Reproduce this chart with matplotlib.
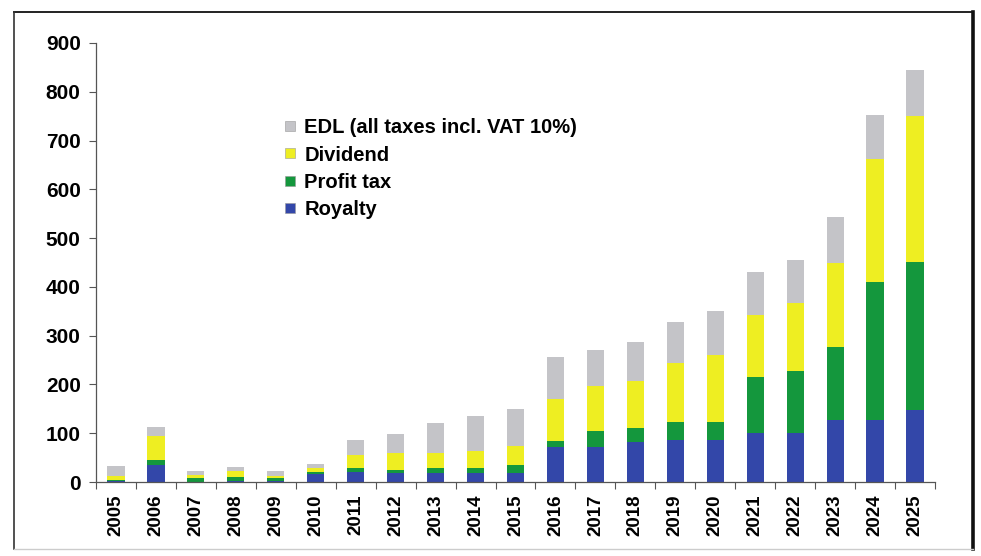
import matplotlib
matplotlib.use("Agg")
import matplotlib.pyplot as plt
from matplotlib.lines import Line2D
import numpy as np

years = [str(y) for y in range(2005, 2026)]
royalty = [2, 35, 1, 2, 3, 17, 21, 19, 19, 19, 19, 72, 72, 81, 86, 86, 100, 101, 127, 127, 148]
profit_tax = [3, 10, 8, 8, 5, 4, 7, 5, 10, 10, 16, 12, 33, 29, 36, 36, 116, 126, 150, 283, 304]
dividend = [7, 50, 5, 12, 5, 7, 28, 36, 31, 35, 39, 86, 91, 97, 122, 139, 126, 140, 171, 252, 298]
edl = [20, 17, 8, 8, 10, 8, 30, 38, 60, 71, 76, 87, 75, 80, 84, 89, 89, 89, 95, 90, 95]

series_names = ["Royalty", "Profit tax", "Dividend", "EDL (all taxes incl. VAT 10%)"]
series_colors = ["#3347a9", "#14973d", "#eeee22", "#c4c4c8"]
y_ticks = list(range(0, 1000, 100))

plt.rcParams["font.family"] = ["Liberation Sans", "DejaVu Sans"]
plt.rcParams["font.weight"] = "bold"

fig = plt.figure(figsize=(9.81, 5.56), dpi=100)
ax = fig.add_axes([96 / 981, 1 - 482 / 556, (935 - 96) / 981, (482 - 43) / 556])

x = np.arange(len(years))
bottom = np.zeros(len(years))
handles = []
for name, vals, col in zip(series_names, [royalty, profit_tax, dividend, edl], series_colors):
    vals = np.array(vals, dtype=float)
    ax.bar(x, vals, width=0.43, bottom=bottom, color=col, edgecolor="none")
    bottom += vals
    handles.append(Line2D([], [], marker="s", linestyle="none", markersize=7.5,
                          markerfacecolor=col, markeredgecolor="#999999",
                          markeredgewidth=0.4, label=name))

ax.set_xlim(-0.5, len(years) - 0.5)
ax.set_ylim(0, 900)
ax.set_yticks(y_ticks)
ax.set_yticklabels([str(v) for v in y_ticks], fontsize=15, fontweight="bold")
ax.set_xticks(x)
ax.set_xticklabels(years, rotation=90, fontsize=13.5, fontweight="bold")
ax.set_xticks(np.arange(-0.5, len(years), 1.0), minor=True)
ax.tick_params(axis="x", which="major", length=0, pad=9)
ax.tick_params(axis="x", which="minor", length=5, width=0.8, color="#555555", direction="out")
ax.tick_params(axis="y", which="major", length=5, width=0.8, color="#555555", direction="out", pad=6)

for side in ["top", "right"]:
    ax.spines[side].set_visible(False)
for side in ["left", "bottom"]:
    ax.spines[side].set_color("#555555")
    ax.spines[side].set_linewidth(0.9)

leg = ax.legend(handles=handles[::-1], loc="upper left",
                bbox_to_anchor=((274 - 96) / (935 - 96), (482 - 108) / (482 - 43)),
                frameon=False, fontsize=14.5, handlelength=0.6, handletextpad=0.4,
                labelspacing=0.42, borderpad=0.0)
for t in leg.get_texts():
    t.set_fontweight("bold")

# outer chart border
fig.add_artist(Line2D([14 / 981, 972 / 981], [1 - 12 / 556, 1 - 12 / 556],
                      transform=fig.transFigure, color="#222222", lw=1.4))
fig.add_artist(Line2D([14 / 981, 14 / 981], [1 - 12 / 556, 1 - 549 / 556],
                      transform=fig.transFigure, color="#333333", lw=1.2))
fig.add_artist(Line2D([973 / 981, 973 / 981], [1 - 12 / 556, 1 - 549 / 556],
                      transform=fig.transFigure, color="#111111", lw=2.6))
fig.add_artist(Line2D([14 / 981, 973 / 981], [1 - 549 / 556, 1 - 549 / 556],
                      transform=fig.transFigure, color="#cccccc", lw=1.0))

fig.savefig("out.png", dpi=100)
